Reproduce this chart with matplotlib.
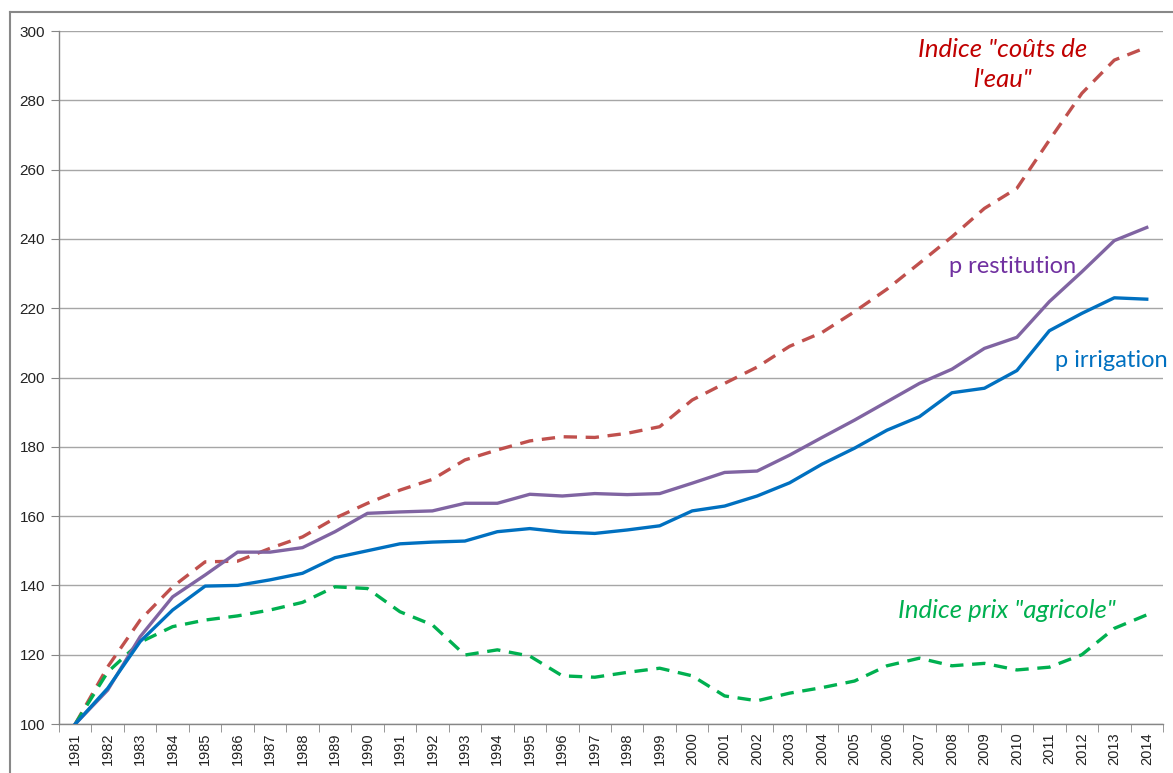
import matplotlib
matplotlib.use("Agg")
import matplotlib.pyplot as plt
from matplotlib.lines import Line2D

years = list(range(1981, 2015))

couts_eau = [100, 116.5, 130, 139.6, 146.8, 147, 150.7, 154, 159.4, 163.7, 167.5, 170.6,
             176.2, 179.1, 181.7, 182.9, 182.7, 183.9, 185.8, 193.5, 198.3, 203, 209,
             213, 219, 225.5, 233, 240.6, 248.8, 254.6, 268.5, 282, 291.6, 295.3]
p_restitution = [100, 109.8, 125.2, 136.7, 143, 149.6, 149.6, 150.9, 155.5, 160.8, 161.2, 161.5,
                 163.7, 163.7, 166.3, 165.8, 166.5, 166.2, 166.5, 169.5, 172.6, 173, 177.6,
                 182.7, 187.7, 193, 198.3, 202.4, 208.4, 211.6, 221.9, 230.5, 239.5, 243.3]
p_irrigation = [100, 110.3, 123.8, 132.9, 139.8, 140, 141.6, 143.5, 148, 150, 152, 152.5,
                152.8, 155.5, 156.4, 155.4, 155, 156, 157.2, 161.5, 162.9, 165.8, 169.6,
                175, 179.6, 184.8, 188.7, 195.6, 196.9, 202, 213.5, 218.5, 223, 222.6]
prix_agricole = [100, 115, 123.6, 128.1, 130, 131.2, 132.9, 135.1, 139.6, 139.1, 132.4, 128.6,
                 119.9, 121.4, 119.6, 113.9, 113.5, 114.9, 116.1, 113.9, 108.1, 106.7, 108.9,
                 110.5, 112.4, 116.8, 119, 116.8, 117.5, 115.6, 116.4, 120, 127.6, 131.5]

label_couts = 'Indice "coûts de\nl\'eau"'
label_restitution = "p restitution"
label_irrigation = "p irrigation"
label_agricole = 'Indice prix "agricole"'

plt.rcParams['font.family'] = ['Lato', 'DejaVu Sans']

fig = plt.figure(figsize=(11.73, 7.73), dpi=100)
ax = fig.add_axes([59/1173, 1-724/773, (1163-59)/1173, (724-31)/773])

x = list(range(len(years)))
lw = 2.4
ax.plot(x, couts_eau, color='#C0504D', lw=lw, dashes=(4, 2.6), zorder=3)
ax.plot(x, p_restitution, color='#8064A2', lw=lw, zorder=4)
ax.plot(x, p_irrigation, color='#0070C0', lw=lw, zorder=5)
ax.plot(x, prix_agricole, color='#00B050', lw=lw, dashes=(4, 2.6), zorder=3)

ax.set_xlim(-0.5, len(years) - 0.5)
ax.set_ylim(100, 300)
ax.set_yticks(range(100, 301, 20))
ax.grid(axis='y', color='#A6A6A6', lw=1)
ax.set_axisbelow(True)

ax.set_xticks(x)
ax.set_xticklabels([str(y) for y in years], rotation=90, fontsize=10.5, family=['Liberation Sans'])
ax.tick_params(axis='x', which='major', length=0, pad=6)
ax.set_xticks([i - 0.5 for i in range(len(years) + 1)], minor=True)
ax.tick_params(axis='x', which='minor', length=6, color='#868686')
ax.tick_params(axis='y', length=6, color='#868686', labelsize=11, pad=4)
for lab in ax.get_yticklabels():
    lab.set_family(['Liberation Sans'])
    lab.set_color('#222222')
for lab in ax.get_xticklabels():
    lab.set_color('#222222')

for s in ['top', 'right']:
    ax.spines[s].set_visible(False)
for s in ['left', 'bottom']:
    ax.spines[s].set_color('#868686')
    ax.spines[s].set_linewidth(1)

# annotations
ax.text(28.57, 290.3, label_couts, color='#C00000', style='italic', fontsize=18.5,
        ha='center', va='center', linespacing=1.35)
ax.text(28.88, 231.9, label_restitution, color='#7030A0', fontsize=17, ha='center', va='center')
ax.text(31.9, 205.0, label_irrigation, color='#0070C0', fontsize=17, ha='center', va='center')
ax.text(28.7, 132.9, label_agricole, color='#00B050', style='italic', fontsize=18.5,
        ha='center', va='center')

# outer chart border (left and top)
fig.add_artist(Line2D([10/1173, 10/1173], [0, 1-12/773], transform=fig.transFigure,
                      color='#888888', lw=1.5))
fig.add_artist(Line2D([10/1173, 1], [1-12/773, 1-12/773], transform=fig.transFigure,
                      color='#888888', lw=1.5))

fig.savefig('out.png', dpi=100)
